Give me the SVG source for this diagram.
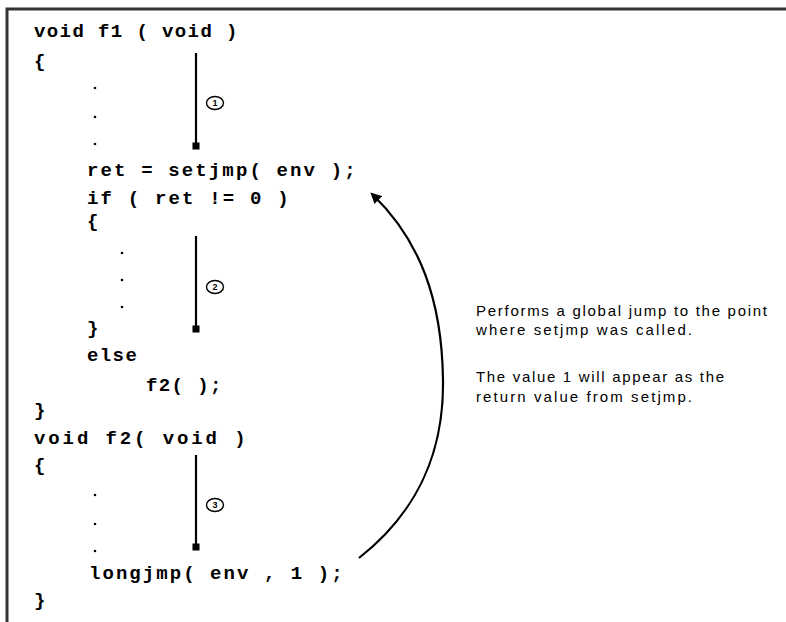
<svg xmlns="http://www.w3.org/2000/svg" width="786" height="622" viewBox="0 0 786 622">
<style>
.code{font-family:"Liberation Mono","DejaVu Sans Mono",monospace;font-size:19px;font-weight:bold;letter-spacing:1.4px;fill:#000}
.note{font-family:"Liberation Sans",Arial,sans-serif;font-size:15px;fill:#000}
.num{font-family:"Liberation Sans",Arial,sans-serif;font-size:9px;font-weight:bold;fill:#000;text-anchor:middle}
.ring{fill:none;stroke:#000;stroke-width:1.4}
.dot{fill:#000}
.flow{stroke:#000;stroke-width:2.2;fill:none}
</style>
<defs>
<marker id="blob" viewBox="0 0 10 10" refX="5" refY="5" markerWidth="3.2" markerHeight="3.2" orient="auto">
<rect x="0" y="0" width="10" height="10" fill="#000"/>
</marker>
<marker id="head" viewBox="0 0 10 10" refX="8" refY="5" markerWidth="5" markerHeight="5" orient="auto">
<path d="M0,0 L10,5 L0,10 z" fill="#000"/>
</marker>
</defs>
<rect width="786" height="622" fill="#fff"/>
<g id="frame">
<path d="M7,622 L7,9 L786,9" fill="none" stroke="#333" stroke-width="3"/>
</g>
<g id="f1">
<text class="code" x="34" y="37">void f1 ( void )</text>
<text class="code" x="34" y="67">{</text>
<circle class="dot" cx="95" cy="88" r="1.3"/>
<circle class="dot" cx="95" cy="117" r="1.3"/>
<circle class="dot" cx="95" cy="144" r="1.3"/>
<text class="code" x="87" y="176" textLength="270" lengthAdjust="spacing">ret = setjmp( env );</text>
<text class="code" x="87" y="204" textLength="203" lengthAdjust="spacing">if ( ret != 0 )</text>
<text class="code" x="87" y="227">{</text>
<circle class="dot" cx="122" cy="253" r="1.3"/>
<circle class="dot" cx="122" cy="280" r="1.3"/>
<circle class="dot" cx="122" cy="307" r="1.3"/>
<text class="code" x="87" y="334">}</text>
<text class="code" x="87" y="361">else</text>
<text class="code" x="146" y="391">f2( );</text>
<text class="code" x="34" y="416">}</text>
</g>
<g id="f2">
<text class="code" x="34" y="444" textLength="213" lengthAdjust="spacing">void  f2( void )</text>
<text class="code" x="34" y="471">{</text>
<circle class="dot" cx="95" cy="495" r="1.3"/>
<circle class="dot" cx="95" cy="524" r="1.3"/>
<circle class="dot" cx="95" cy="551" r="1.3"/>
<text class="code" x="89" y="579" textLength="255" lengthAdjust="spacing">longjmp( env , 1 );</text>
<text class="code" x="34" y="606">}</text>
</g>
<g id="step1">
<ellipse class="ring" cx="215" cy="103" rx="8.5" ry="6.5"/>
<text class="num" x="215" y="106">1</text>
</g>
<g id="step2">
<ellipse class="ring" cx="215" cy="287" rx="8.5" ry="6.5"/>
<text class="num" x="215" y="290">2</text>
</g>
<g id="step3">
<ellipse class="ring" cx="215" cy="505" rx="8.5" ry="6.5"/>
<text class="num" x="215" y="508">3</text>
</g>
<g id="note">
<text class="note" x="476" y="316" textLength="291" lengthAdjust="spacing">Performs a global jump to the point</text>
<text class="note" x="476" y="335" textLength="216" lengthAdjust="spacing">where setjmp was called.</text>
<text class="note" x="476" y="382" textLength="248" lengthAdjust="spacing">The value 1 will appear as the</text>
<text class="note" x="476" y="402" textLength="216" lengthAdjust="spacing">return value from setjmp.</text>
</g>
<g id="connectors">
<line class="flow" x1="196" y1="53" x2="196" y2="146" marker-end="url(#blob)"/>
<line class="flow" x1="196" y1="236" x2="196" y2="329" marker-end="url(#blob)"/>
<line class="flow" x1="196" y1="455" x2="196" y2="547" marker-end="url(#blob)"/>
<path class="flow" d="M359,558 C420,510 444,450 443,380 C442,300 420,240 372,194" marker-end="url(#head)"/>
</g>
</svg>
